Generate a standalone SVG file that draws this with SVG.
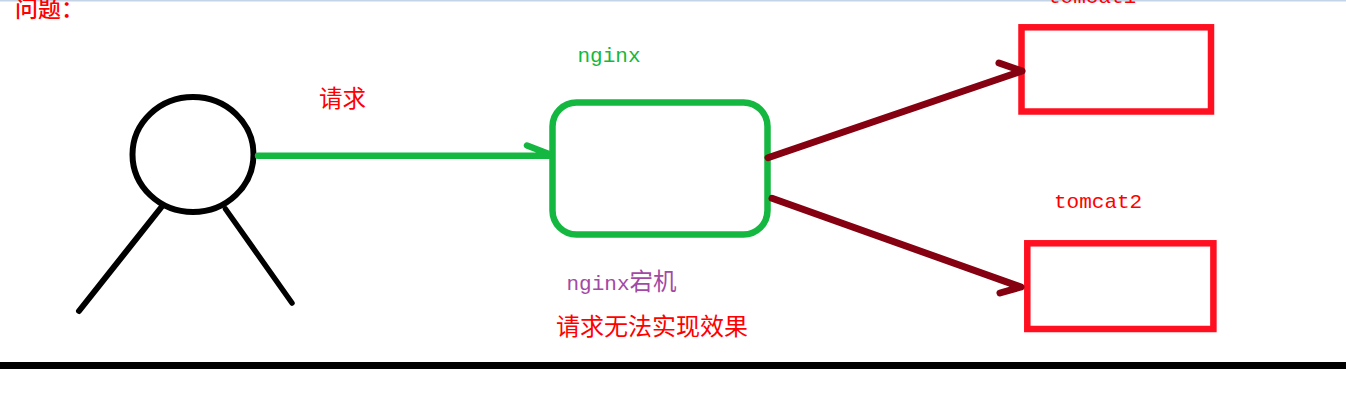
<svg xmlns="http://www.w3.org/2000/svg" width="1346" height="419" viewBox="0 0 1346 419">
<style>
.m{font-family:"Liberation Mono","Noto Sans CJK SC",monospace;font-size:21px;font-weight:400}
.c{font-family:"Noto Sans CJK SC",sans-serif}
.red{fill:#ff0000}
.l{fill:none;stroke-linecap:round;stroke-linejoin:round}
.b{stroke:#000;stroke-width:6}
.g{stroke:#14b840;stroke-width:6.500}
.d{stroke:#850010;stroke-width:7}
.box{fill:none;stroke:#ff0f1f;stroke-width:6.500}
</style>
<rect width="1346" height="419" fill="#fff"/>
<rect width="1346" height="1.500" fill="#c5d3e6"/>
<text id="title" class="c red" x="15" y="17" font-size="23" font-weight="500">问题：</text>
<g id="person">
<ellipse class="l b" cx="193" cy="154.500" rx="60.500" ry="57.500"/>
<path class="l b" d="M161.500 207L79 311"/>
<path class="l b" style="stroke-width:5.500" d="M225.500 209L292 303"/>
</g>
<text id="label-request" class="c red" x="319" y="107" font-size="23.500">请求</text>
<g id="nginx">
<text class="m" x="577.500" y="62" fill="#14b840">nginx</text>
<rect class="l g" x="552.500" y="102.500" width="215" height="132" rx="24"/>
</g>
<g id="tomcat1">
<text class="m" x="1048" y="3" fill="#ff0000">tomcat1</text>
<rect class="box" x="1021.500" y="27.300" width="189.500" height="84.200"/>
</g>
<g id="tomcat2">
<text class="m" x="1054" y="208" fill="#ff0000">tomcat2</text>
<rect class="box" x="1027.300" y="243.300" width="186.100" height="85.700"/>
</g>
<g id="connectors">
<path class="l g" d="M258 155.700H549M527 145.500L549 154"/>
<path class="l d" d="M768 157.700L1022 71M999 63L1022 71"/>
<path class="l d" d="M772 198.300L1021 287M1000 293L1021 287"/>
</g>
<text id="host-label" x="566.500" y="290" fill="#a349a4"><tspan class="m">nginx</tspan><tspan class="c" font-size="23.500">宕机</tspan></text>
<text id="result" class="c red" x="556" y="335" font-size="24">请求无法实现效果</text>
<rect id="ground" x="0" y="362" width="1346" height="7"/>
</svg>
